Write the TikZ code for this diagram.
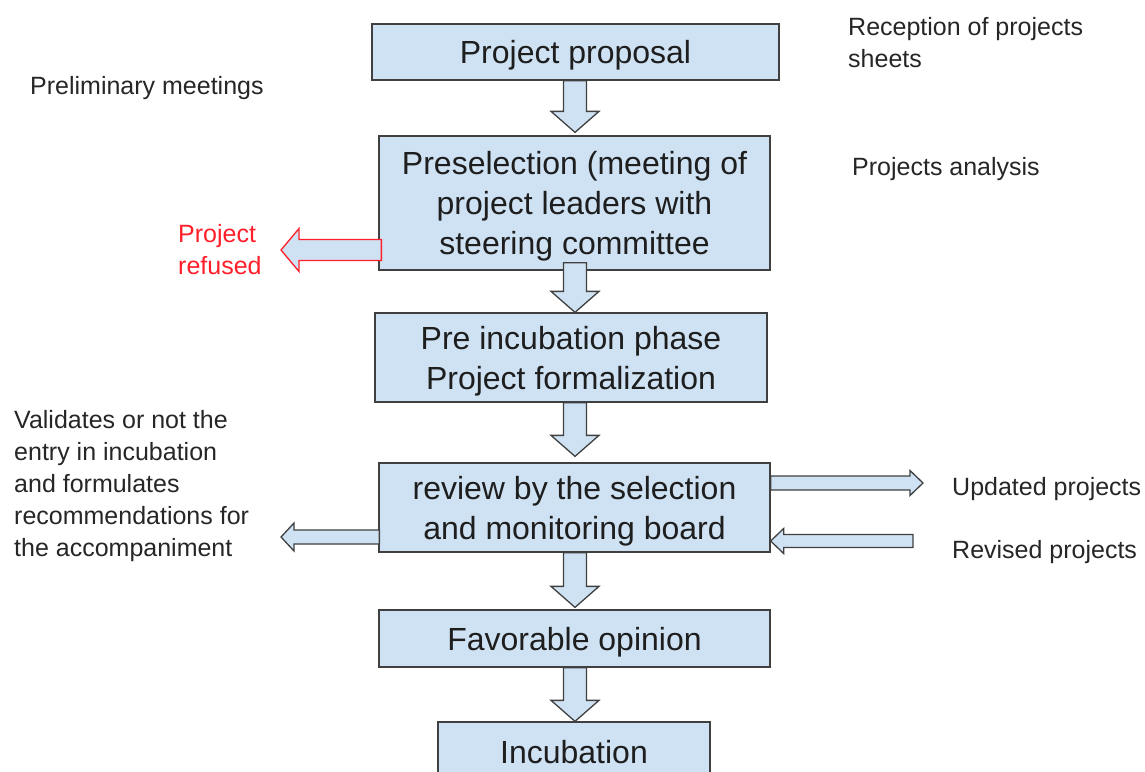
\documentclass[tikz,border=0pt]{standalone}
\usepackage{fontspec}
\setmainfont{Liberation Sans}
\usetikzlibrary{calc}

\definecolor{boxfill}{HTML}{CFE2F3}
\definecolor{boxline}{HTML}{404040}
\definecolor{boxtext}{HTML}{1E1E1E}
\definecolor{labeltext}{HTML}{262626}
\definecolor{refusedred}{HTML}{FF1F2A}

\tikzset{
  stepbox/.style={rectangle, draw=boxline, fill=boxfill, line width=1.3pt,
    inner sep=0pt, align=center, text=boxtext, text depth=-2pt,
    font=\fontsize{32}{40}\selectfont},
  % multi-line notes are anchored on the baseline of their last line
  sidelabel/.style={anchor=base west, inner sep=0pt, align=left,
    text=labeltext, font=\fontsize{25}{32}\selectfont},
  blockarrow/.style={draw=boxline, fill=boxfill, line width=1.3pt, line join=miter},
  redarrow/.style={draw=refusedred, fill=boxfill, line width=1.3pt, line join=miter},
}

% vertical block arrow on the column axis: #1 top of the shaft, #2 tip
\newcommand\vblock[2]{%
  \draw[blockarrow] let \p1=(#1), \p2=(#2) in
    ({575pt-11.5pt},\y1) -- ({575pt-11.5pt},{\y2+21pt}) -- ({575pt-24pt},{\y2+21pt})
    -- (575pt,\y2) -- ({575pt+24pt},{\y2+21pt}) -- ({575pt+11.5pt},{\y2+21pt})
    -- ({575pt+11.5pt},\y1) -- cycle;}

% horizontal block arrow: #1 style, #2 tail, #3 tip, #4 shaft half width,
% #5 head half width, #6 signed head length (positive points right)
\newcommand\hblock[6][blockarrow]{%
  \draw[#1] let \p1=(#2), \p2=(#3) in
    (\x1,{\y1+#4pt}) -- ({\x2-#6pt},{\y1+#4pt}) -- ({\x2-#6pt},{\y1+#5pt})
    -- (\x2,\y1) -- ({\x2-#6pt},{\y1-#5pt}) -- ({\x2-#6pt},{\y1-#4pt})
    -- (\x1,{\y1-#4pt}) -- cycle;}

\begin{document}
\begin{tikzpicture}[x=1pt,y=-1pt]
\useasboundingbox (0,0) rectangle (1145,771);

% main column
\node[stepbox, minimum width=407pt, minimum height=56pt] (b1) at (575.5,52) {Project proposal};
\node[stepbox, minimum width=391pt, minimum height=134pt] (b2) at (574.5,203)
  {Preselection (meeting of\\project leaders with\\steering committee};
\node[stepbox, minimum width=392pt, minimum height=89pt] (b3) at (571,357.5)
  {Pre incubation phase\\Project formalization};
\node[stepbox, minimum width=391pt, minimum height=89pt] (b4) at (574.5,507.5)
  {review by the selection\\and monitoring board};
\node[stepbox, minimum width=391pt, minimum height=57pt] (b5) at (574.5,638.5) {Favorable opinion};
\node[stepbox, minimum width=272pt, minimum height=60pt] (b6) at (574,752) {Incubation};

% side notes
\node[sidelabel] (lprelim) at (30,94) {Preliminary meetings};
\node[sidelabel] (lrecept) at (848,67) {Reception of projects\\sheets};
\node[sidelabel] (lanalys) at (852,175) {Projects analysis};
\node[sidelabel, text=refusedred] (lrefused) at (178,274) {Project\\refused};
\node[sidelabel] (lvalid) at (14,556)
  {Validates or not the\\entry in incubation\\and formulates\\recommendations for\\the accompaniment};
\node[sidelabel] (lupdated) at (952,495) {Updated projects};
\node[sidelabel] (lrevised) at (952,558) {Revised projects};

% free ends of the side arrows
\coordinate (refusedTip) at (281,250);
\coordinate (updatedTip) at (923,483);
\coordinate (revisedTail) at (913,541);
\coordinate (accompTip) at (281,537);

% flow between the steps
\vblock{b1.south}{$(b2.north)+(0,-3)$}
\vblock{$(b2.south)+(0,-8)$}{b3.north}
\vblock{b3.south}{$(b4.north)+(0,-6)$}
\vblock{b4.south}{$(b5.north)+(0,-2)$}
\vblock{b5.south}{b6.north}

% side arrows
\hblock[redarrow]{$(b2.west |- refusedTip)+(3,0)$}{refusedTip}{10.5}{21.5}{-18}
\hblock{b4.east |- updatedTip}{updatedTip}{7}{12.5}{13}
\hblock{revisedTail}{b4.east |- revisedTail}{6.5}{12.5}{-13}
\hblock{$(b4.west |- accompTip)+(1,0)$}{accompTip}{7}{14}{-13}
\end{tikzpicture}
\end{document}
